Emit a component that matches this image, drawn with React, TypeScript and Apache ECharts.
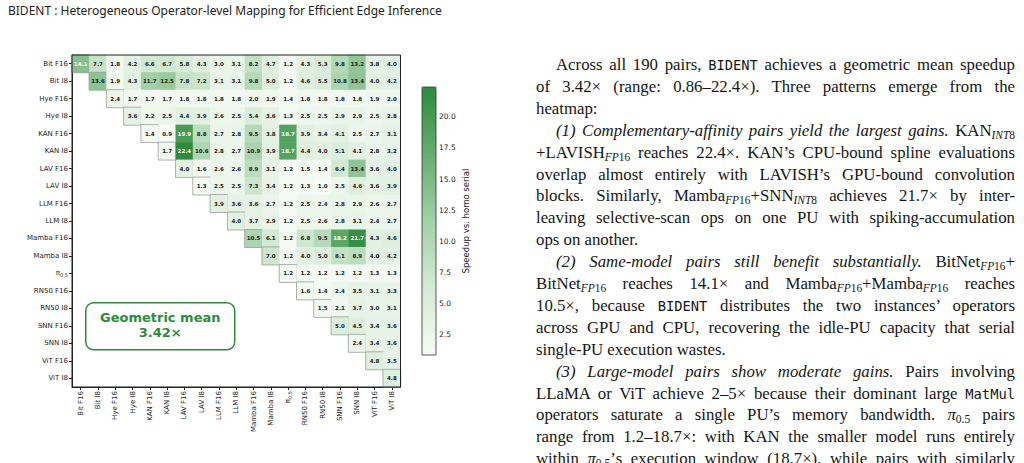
import React, { useEffect, useRef } from "react";
import * as echarts from "echarts";

// ---------- data ----------
const models = [
  "Bit F16", "Bit I8", "Hye F16", "Hye I8", "KAN F16", "KAN I8", "LAV F16", "LAV I8",
  "LLM F16", "LLM I8", "Mamba F16", "Mamba I8", "π0.5", "RN50 F16", "RN50 I8",
  "SNN F16", "SNN I8", "ViT F16", "ViT I8",
];

// each row starts at its diagonal cell (upper triangle)
const rowBitF16 = [14.1, 7.7, 1.8, 4.2, 6.6, 6.7, 5.8, 4.3, 3.0, 3.1, 8.2, 4.7, 1.2, 4.3, 5.3, 9.8, 13.2, 3.8, 4.0];
const rowBitI8 = [13.6, 1.9, 4.3, 11.7, 12.5, 7.8, 7.2, 3.1, 3.1, 9.8, 5.0, 1.2, 4.6, 5.5, 10.8, 13.4, 4.0, 4.2];
const rowHyeF16 = [2.4, 1.7, 1.7, 1.7, 1.8, 1.8, 1.8, 1.8, 2.0, 1.9, 1.4, 1.8, 1.8, 1.8, 1.8, 1.9, 2.0];
const rowHyeI8 = [3.6, 2.2, 2.5, 4.4, 3.9, 2.6, 2.5, 5.4, 3.6, 1.3, 2.5, 2.5, 2.9, 2.9, 2.5, 2.8];
const rowKanF16 = [1.4, 0.9, 19.9, 8.8, 2.7, 2.8, 9.5, 3.8, 18.7, 3.9, 3.4, 4.1, 2.5, 2.7, 3.1];
const rowKanI8 = [1.7, 22.4, 10.6, 2.8, 2.7, 10.9, 3.9, 18.7, 4.4, 4.0, 5.1, 4.1, 2.8, 3.2];
const rowLavF16 = [4.0, 1.6, 2.6, 2.6, 8.9, 3.1, 1.2, 1.5, 1.4, 6.4, 13.4, 3.6, 4.0];
const rowLavI8 = [1.3, 2.5, 2.5, 7.3, 3.4, 1.2, 1.3, 1.0, 2.5, 4.6, 3.6, 3.9];
const rowLlmF16 = [3.9, 3.6, 3.6, 2.7, 1.2, 2.5, 2.4, 2.8, 2.9, 2.6, 2.7];
const rowLlmI8 = [4.0, 3.7, 2.9, 1.2, 2.5, 2.6, 2.8, 3.1, 2.4, 2.7];
const rowMambaF16 = [10.5, 6.1, 1.2, 6.8, 9.5, 18.2, 21.7, 4.3, 4.6];
const rowMambaI8 = [7.0, 1.2, 4.0, 5.0, 8.1, 8.9, 4.0, 4.2];
const rowPi05 = [1.2, 1.2, 1.2, 1.2, 1.2, 1.3, 1.3];
const rowRn50F16 = [1.6, 1.4, 2.4, 3.5, 3.1, 3.3];
const rowRn50I8 = [1.5, 2.1, 3.7, 3.0, 3.1];
const rowSnnF16 = [5.0, 4.5, 3.4, 3.6];
const rowSnnI8 = [2.4, 3.4, 3.6];
const rowVitF16 = [4.8, 3.5];
const rowVitI8 = [4.8];

const upperRows = [
  rowBitF16, rowBitI8, rowHyeF16, rowHyeI8, rowKanF16, rowKanI8, rowLavF16, rowLavI8,
  rowLlmF16, rowLlmI8, rowMambaF16, rowMambaI8, rowPi05, rowRn50F16, rowRn50I8,
  rowSnnF16, rowSnnI8, rowVitF16, rowVitI8,
];

const colorbarTicks = [2.5, 5.0, 7.5, 10.0, 12.5, 15.0, 17.5, 20.0];
const speedupMin = 0.86;
const speedupMax = 22.4;
const geoMean = 3.42;

const GREEN = "#2e8b3e";

// ---------- paragraph (page text) ----------
const mono: React.CSSProperties = {
  fontFamily: '"DejaVu Sans Mono", "Liberation Mono", monospace',
  fontSize: "0.82em",
};
const subS: React.CSSProperties = { fontSize: "0.68em", verticalAlign: "-0.28em", lineHeight: 0 };
const Sub = ({ it, rest }: { it: string; rest: string }) => (
  <span style={subS}>
    <i>{it}</i>
    {rest}
  </span>
);

const lines: { indent?: boolean; last?: boolean; c: React.ReactNode }[] = [
  { indent: true, c: <>Across all 190 pairs, <span style={mono}>BIDENT</span> achieves a geometric mean speedup</> },
  { c: <>of 3.42× (range: 0.86–22.4×). Three patterns emerge from the</> },
  { last: true, c: <>heatmap:</> },
  { indent: true, c: <><i>(1) Complementary-affinity pairs yield the largest gains.</i> KAN<Sub it="INT" rest="8" /></> },
  { c: <>+LAVISH<Sub it="FP" rest="16" /> reaches 22.4×. KAN’s CPU-bound spline evaluations</> },
  { c: <>overlap almost entirely with LAVISH’s GPU-bound convolution</> },
  { c: <>blocks. Similarly, Mamba<Sub it="FP" rest="16" />+SNN<Sub it="INT" rest="8" /> achieves 21.7× by inter-</> },
  { c: <>leaving selective-scan ops on one PU with spiking-accumulation</> },
  { last: true, c: <>ops on another.</> },
  { indent: true, c: <><i>(2) Same-model pairs still benefit substantially.</i> BitNet<Sub it="FP" rest="16" />+</> },
  { c: <>BitNet<Sub it="FP" rest="16" /> reaches 14.1× and Mamba<Sub it="FP" rest="16" />+Mamba<Sub it="FP" rest="16" /> reaches</> },
  { c: <>10.5×, because <span style={mono}>BIDENT</span> distributes the two instances’ operators</> },
  { c: <>across GPU and CPU, recovering the idle-PU capacity that serial</> },
  { last: true, c: <>single-PU execution wastes.</> },
  { indent: true, c: <><i>(3) Large-model pairs show moderate gains.</i> Pairs involving</> },
  { c: <>LLaMA or ViT achieve 2–5× because their dominant large <span style={mono}>MatMul</span></> },
  { c: <>operators saturate a single PU’s memory bandwidth. <i>π</i><span style={subS}>0.5</span> pairs</> },
  { c: <>range from 1.2–18.7×: with KAN the smaller model runs entirely</> },
  { c: <>within <i>π</i><span style={subS}>0.5</span>’s execution window (18.7×), while pairs with similarly</> },
];

export default function App() {
  const ref = useRef<HTMLDivElement>(null);

  useEffect(() => {
    if (!ref.current) return;
    const chart = echarts.init(ref.current, null, { renderer: "svg" });

    const data: any[] = [];
    upperRows.forEach((row, r) => {
      row.forEach((v, k) => {
        const c = r + k;
        data.push({
          value: [c, r, v],
          label: { color: v >= 14 ? "#ffffff" : "#1a1a1a" },
          itemStyle: c === r ? { borderColor: "#9c9c9c", borderWidth: 0.8 } : { borderWidth: 0 },
        });
      });
    });

    const labelFmt = (v: string) => (v === "π0.5" ? "{pi|π}{sub|0.5}" : v);
    const labelRich = {
      pi: { fontSize: 7, color: "#222", fontFamily: "DejaVu Sans" },
      sub: { fontSize: 5, color: "#222", fontFamily: "DejaVu Sans", padding: [3, 0, 0, 0] },
    };

    chart.setOption({
      animation: false,
      textStyle: { fontFamily: "DejaVu Sans" },
      grid: [
        {
          left: 72, top: 55, width: 328.5, height: 332,
          show: true, borderColor: "#222", borderWidth: 1, backgroundColor: "transparent",
          z: 5,
        },
        {
          left: 422, top: 87, width: 14, height: 268,
          show: true, borderColor: "#333", borderWidth: 0.8, backgroundColor: "transparent",
          z: 10,
        },
      ],
      xAxis: [
        {
          type: "category", data: models, gridIndex: 0, position: "bottom",
          axisLine: { show: true, lineStyle: { color: "#222", width: 1 } },
          axisTick: { show: true, alignWithLabel: true, length: 3, lineStyle: { color: "#222" } },
          axisLabel: {
            rotate: 90, fontSize: 7, color: "#222", margin: 4, interval: 0,
            formatter: labelFmt, rich: labelRich,
          },
          splitLine: { show: false },
        },
        { type: "value", gridIndex: 1, show: false, min: 0, max: 1 },
      ],
      yAxis: [
        {
          type: "category", data: models, gridIndex: 0, inverse: true,
          axisLine: { show: true, lineStyle: { color: "#222", width: 1 } },
          axisTick: { show: true, alignWithLabel: true, length: 3, lineStyle: { color: "#222" } },
          axisLabel: { fontSize: 7, color: "#222", margin: 4, interval: 0, formatter: labelFmt, rich: labelRich },
          splitLine: { show: false },
        },
        {
          type: "value", gridIndex: 1, position: "right", min: speedupMin, max: speedupMax,
          axisLine: { show: false },
          axisTick: { show: true, length: 3, lineStyle: { color: "#222" }, customValues: colorbarTicks },
          axisLabel: {
            fontSize: 7.5, color: "#222", margin: 3, customValues: colorbarTicks,
            formatter: (v: number) => v.toFixed(1),
          },
          splitLine: { show: false },
          name: "Speedup vs. homo serial", nameLocation: "middle", nameRotate: 90, nameGap: 25,
          nameTextStyle: { fontSize: 8.5, color: "#222" },
        },
      ],
      visualMap: {
        type: "continuous", seriesIndex: 0, min: speedupMin, max: speedupMax,
        left: 422, top: 87, itemWidth: 14, itemHeight: 268, padding: 0,
        calculable: false, show: true, hoverLink: false,
        inRange: { color: ["#f7fbf6", "#d4ead5", "#a2d0a7", "#66ad70", GREEN] },
      },
      series: [
        {
          type: "heatmap", xAxisIndex: 0, yAxisIndex: 0, data,
          label: {
            show: true, fontSize: 5.5, fontWeight: "bold", fontFamily: "DejaVu Sans",
            formatter: (p: any) => p.value[2].toFixed(1),
          },
          emphasis: { disabled: true },
        },
      ],
      graphic: [
        {
          type: "text", left: 8, top: 4,
          style: {
            text: "BIDENT : Heterogeneous Operator-level Mapping for Efficient Edge Inference",
            fontSize: 12, fontFamily: "Noto Sans", fill: "#222",
          },
        },
        {
          type: "group", left: 85, top: 302, z: 20,
          children: [
            {
              type: "rect", shape: { x: 0, y: 0, width: 149, height: 47, r: 8 },
              style: { fill: "#ffffff", stroke: GREEN, lineWidth: 1.5 },
            },
            {
              type: "text", x: 74.5, y: 15,
              style: {
                text: "Geometric mean", fontSize: 13, fontWeight: "bold", fontFamily: "DejaVu Sans",
                fill: GREEN, align: "center", verticalAlign: "middle",
              },
            },
            {
              type: "text", x: 74.5, y: 30,
              style: {
                text: `${geoMean.toFixed(2)}×`, fontSize: 13, fontWeight: "bold", fontFamily: "DejaVu Sans",
                fill: GREEN, align: "center", verticalAlign: "middle",
              },
            },
          ],
        },
      ],
    });

    return () => chart.dispose();
  }, []);

  return (
    <div style={{ position: "fixed", left: 0, top: 0, width: 1024, height: 463, background: "#fff", overflow: "hidden" }}>
      <div ref={ref} style={{ position: "absolute", left: 0, top: 0, width: 1024, height: 463 }} />
      <div style={{ position: "absolute", left: 0, top: 0, width: 1024, height: 463, pointerEvents: "none" }}>
        {lines.map((ln, i) => (
          <div
            key={i}
            style={{
              position: "absolute",
              left: ln.indent ? 556 : 536,
              width: ln.indent ? 459 : 479,
              top: 54 + i * 21.9,
              height: 22,
              lineHeight: "22px",
              fontFamily: '"Liberation Serif", "DejaVu Serif", serif',
              fontSize: 16.8,
              color: "#161616",
              textAlign: "justify",
              textAlignLast: ln.last ? "left" : "justify",
              whiteSpace: "nowrap",
            }}
          >
            {ln.c}
          </div>
        ))}
      </div>
    </div>
  );
}
